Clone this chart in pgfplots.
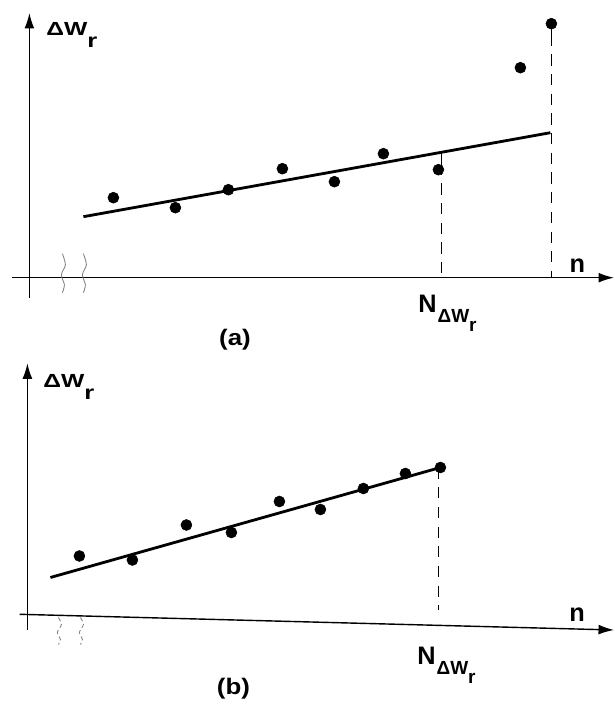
\documentclass[border=0pt]{standalone}
\usepackage{fontspec}
\setmainfont{Liberation Sans}
\usepackage{graphicx}
\usepackage{pgfplots}
\pgfplotsset{compat=1.18}
\usetikzlibrary{arrows.meta}
\newcommand\DWlabel{\scalebox{1.3}[1]{\fontsize{13.5}{15}\selectfont\bfseries ΔW\raisebox{-8.5pt}{\fontsize{14}{15}\selectfont r}}}
\newcommand\NDWlabel{{\fontsize{18}{20}\selectfont\bfseries N}\hspace{0.08em}\raisebox{-7pt}{\fontsize{13.5}{15}\selectfont\bfseries ΔW\raisebox{-6.5pt}{r}}}
\pgfplotsset{
  panel/.style={
    scale only axis, axis lines=middle, ticks=none, clip=false,
    axis line style={line width=1pt,-{Latex[length=11pt,width=7pt]}},
  },
  dot/.style={only marks, mark=*, mark size=3.9pt, black},
  fit/.style={no marks, black, line width=2pt},
  vdash/.style={no marks, black, line width=0.8pt, dash pattern=on 8pt off 6pt},
  squig/.style={no marks, smooth, gray, line width=0.6pt},
}
\begin{document}
\begin{tikzpicture}
\path[use as bounding box] (0,0) rectangle (15.35cm,17.675cm);
% ---------------- panel (a)
\begin{axis}[panel, at={(0.3cm,10.225cm)}, anchor=south west,
  width=15.05cm, height=7.125cm,
  xmin=-1.74, xmax=58.46, ymin=-2.03, ymax=26.47]
\addplot[fit] coordinates {(5.4,6.1) (52.1,14.5)};
\addplot[dot] coordinates {(8.4,8.0) (14.6,7.0) (19.9,8.8) (25.3,10.9) (30.5,9.6) (35.4,12.4) (40.9,10.8) (49.1,21.0) (52.2,25.4)};
\addplot[no marks, black, line width=0.8pt] coordinates {(41.2,12.6) (41.2,11.4)};
\addplot[vdash] coordinates {(41.2,11.4) (41.2,0)};
\addplot[no marks, black, line width=0.8pt] coordinates {(52.2,25.4) (52.2,24.3)};
\addplot[vdash] coordinates {(52.2,24.3) (52.2,0)};
\addplot[squig] coordinates {(3.3,2.4) (3.6,1.3) (3.2,0.3) (3.5,-0.7) (3.3,-1.5)};
\addplot[squig] coordinates {(5.4,2.4) (5.7,1.3) (5.3,0.3) (5.6,-0.7) (5.4,-1.5)};
\node[anchor=base west, inner sep=0pt] at (axis cs:1.66,24.17) {\DWlabel};
\node[anchor=base, inner sep=0pt, font=\fontsize{18}{20}\selectfont\bfseries] at (axis cs:54.8,0.47) {n};
\node[anchor=base west, inner sep=0pt] at (axis cs:38.86,-3.53) {\NDWlabel};
\node[anchor=base, inner sep=0pt] at (axis cs:20.56,-6.83) {\scalebox{1.15}[1]{\fontsize{16}{18}\selectfont\bfseries (a)}};
\end{axis}
% ---------------- panel (b)
\begin{axis}[panel, at={(0.49cm,1.925cm)}, anchor=south west,
  width=14.86cm, height=6.6675cm,
  xmin=-0.78, xmax=58.66, ymin=-1.55, ymax=25.12,
  x axis line style={draw=none}]
\addplot[no marks, black, line width=1pt, -{Latex[length=11pt,width=7pt]}] coordinates {(-0.78,0.02) (58.66,-1.55)};
\addplot[fit] coordinates {(2.3,3.7) (41.3,14.7)};
\addplot[dot] coordinates {(5.2,5.85) (10.5,5.45) (15.9,8.95) (20.4,8.2) (25.2,11.3) (29.3,10.5) (33.6,12.6) (37.8,14.1) (41.3,14.7)};
\addplot[vdash] coordinates {(41.1,14.7) (41.1,0.4)};
\addplot[squig, dash pattern=on 3pt off 2pt] coordinates {(3.1,-0.3) (3.4,-1.0) (3.0,-1.8) (3.3,-2.5) (3.1,-3.0)};
\addplot[squig, dash pattern=on 3pt off 2pt] coordinates {(5.3,-0.3) (5.6,-1.0) (5.2,-1.8) (5.5,-2.5) (5.3,-3.0)};
\node[anchor=base west, inner sep=0pt] at (axis cs:1.56,22.65) {\DWlabel};
\node[anchor=base, inner sep=0pt, font=\fontsize{18}{20}\selectfont\bfseries] at (axis cs:54.96,-0.72) {n};
\node[anchor=base west, inner sep=0pt] at (axis cs:38.96,-5.05) {\NDWlabel};
\node[anchor=base, inner sep=0pt] at (axis cs:20.61,-8.05) {\scalebox{1.15}[1]{\fontsize{16}{18}\selectfont\bfseries (b)}};
\end{axis}
\end{tikzpicture}
\end{document}
